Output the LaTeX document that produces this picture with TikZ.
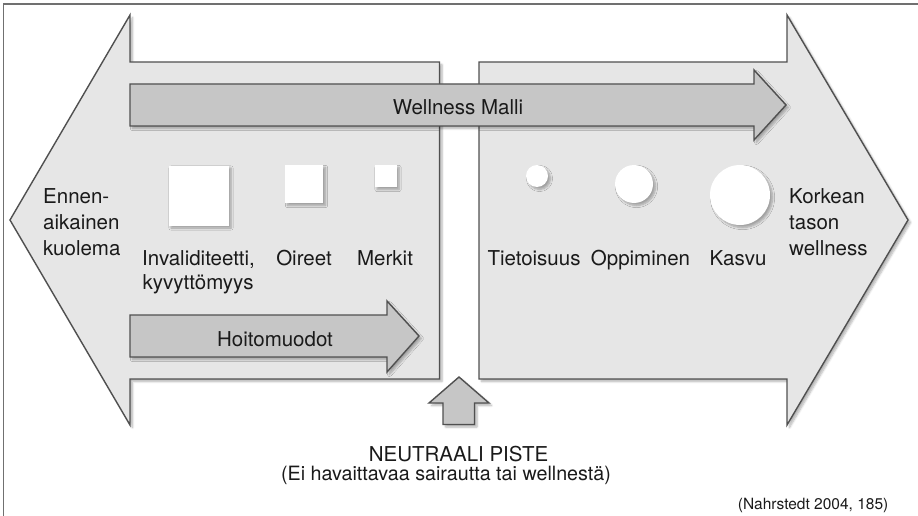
\documentclass[tikz,border=0pt]{standalone}
\usepackage{fontspec}
\setmainfont{TeX Gyre Heros}
\usetikzlibrary{shadows.blur}
\definecolor{lightfill}{HTML}{E6E6E6}
\definecolor{midfill}{HTML}{C6C6C6}
\definecolor{edgecol}{HTML}{505050}
\definecolor{framecol}{HTML}{707070}
\definecolor{txt}{HTML}{1A1A1A}
\begin{document}
\begin{tikzpicture}[x=1pt,y=-1pt,
  softshadow/.style={blur shadow={shadow xshift=2.5pt,shadow yshift=-2.5pt,shadow blur steps=6,shadow opacity=30}},
  bigarrow/.style={fill=lightfill,draw=edgecol,line width=1.4pt,line join=miter,softshadow},
  smallarrow/.style={fill=midfill,draw=edgecol,line width=1.4pt,line join=miter,softshadow},
  whitebox/.style={fill=white,draw=none,inner sep=0pt,softshadow},
  lbl/.style={font=\fontsize{20.5}{24}\selectfont,text=txt,inner sep=0pt,anchor=base},
  lblw/.style={lbl,anchor=base west},
  small/.style={font=\fontsize{15.5}{18}\selectfont,text=txt,inner sep=0pt,anchor=base}
]
\useasboundingbox (0,0) rectangle (918,516);
\draw[framecol,line width=1.2pt] (3.5,516) -- (3.5,4) -- (918,4);

% big arrows
\path[bigarrow] (10,220) -- (130,15) -- (130,62) -- (439.5,62) -- (439.5,379) -- (130,379) -- (130,425) -- cycle;
\path[bigarrow] (479,62) -- (787,62) -- (787,15) -- (908,220) -- (787,425) -- (787,379) -- (479,379) -- cycle;

% wellness malli arrow
\path[smallarrow] (130,84) -- (754,84) -- (754,70) -- (786,105) -- (754,140) -- (754,126) -- (130,126) -- cycle;
\node[lbl] (wm) at (458,115) {Wellness Malli};

% hoitomuodot arrow
\path[smallarrow] (130,315) -- (387,315) -- (387,301) -- (419,336) -- (387,372) -- (387,357) -- (130,357) -- cycle;
\node[lbl] (hm) at (275,346) {Hoitomuodot};

% neutral up arrow
\path[smallarrow] (459,377) -- (489,403) -- (474.5,403) -- (474.5,424.5) -- (443,424.5) -- (443,403) -- (429,403) -- cycle;

% squares
\node[whitebox,minimum size=60pt] (sq1) at (198.5,195.5) {};
\node[whitebox,minimum size=38pt] (sq2) at (304,184) {};
\node[whitebox,minimum size=22pt] (sq3) at (385.5,176) {};

% circles
\node[whitebox,circle,minimum size=22pt] (c1) at (537,176) {};
\node[whitebox,circle,minimum size=38pt] (c2) at (634,184) {};
\node[whitebox,circle,minimum size=60pt] (c3) at (740,195) {};

% side labels
\node[lblw] (e1) at (43,203.5) {Ennen-};
\node[lblw] (e2) at (43,229.5) {aikainen};
\node[lblw] (e3) at (43,255) {kuolema};
\node[lblw] (k1) at (789,203.5) {Korkean};
\node[lblw] (k2) at (789,229.5) {tason};
\node[lblw] (k3) at (789,255) {wellness};

% item labels
\node[lblw] (l1a) at (142,265) {Invaliditeetti,};
\node[lblw] (l1b) at (142.5,289) {kyvyttömyys};
\node[lbl] (l2) at (304,265) {Oireet};
\node[lbl] (l3) at (385,265) {Merkit};
\node[lbl] (r1) at (534,265) {Tietoisuus};
\node[lbl] (r2) at (640.5,265) {Oppiminen};
\node[lbl] (r3) at (738,265) {Kasvu};

% neutral point
\node[lbl] (np) at (458.5,461.5) {NEUTRAALI PISTE};
\node[lbl,font=\fontsize{19.7}{23}\selectfont] (np2) at (446,480) {(Ei havaittavaa sairautta tai wellnestä)};
\node[small,anchor=base east] (src) at (888.5,509.5) {(Nahrstedt 2004, 185)};
\end{tikzpicture}
\end{document}
